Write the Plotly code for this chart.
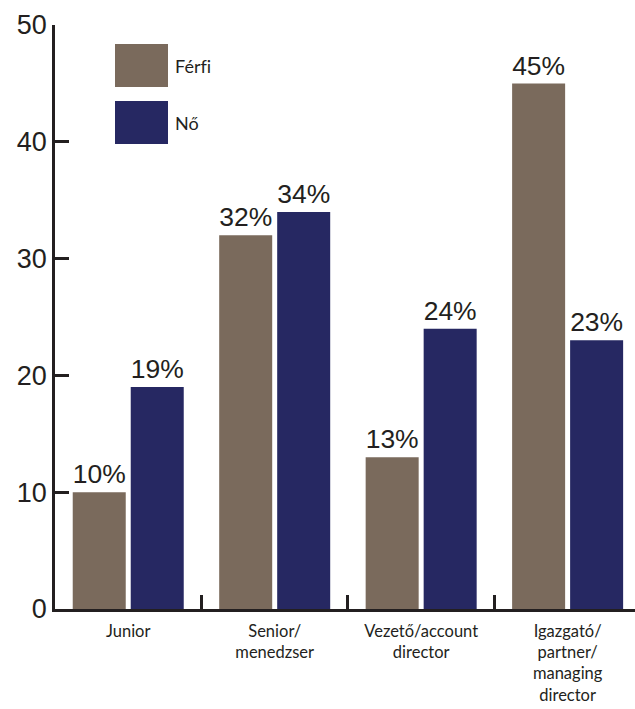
import plotly.graph_objects as go

categories = ["Junior", "Senior/<br>menedzser", "Vezető/account<br>director",
              "Igazgató/<br>partner/<br>managing<br>director"]
ferfi = [10, 32, 13, 45]
no = [19, 34, 24, 23]
# ZWNJ keeps "fi" from collapsing into a ligature
series_names = ["Férf\u200ci", "Nő"]
y_ticks = [0, 10, 20, 30, 40, 50]

BROWN = "#7a6a5c"
NAVY = "#262862"
INK = "#231f20"
NUM_FONT = dict(family="Liberation Sans, Arial, sans-serif", size=27, color=INK)
TICK_FONT = dict(family="Lato, Noto Sans, sans-serif", size=16.5, color=INK)
LEG_FONT = dict(family="Lato, Noto Sans, sans-serif", size=18, color=INK)

fig = go.Figure()
for name, vals, col in [(series_names[0], ferfi, BROWN), (series_names[1], no, NAVY)]:
    fig.add_trace(go.Bar(
        x=categories, y=vals, name=name, marker=dict(color=col, line=dict(width=0)),
        texttemplate="%{y}%", textposition="outside", textfont=NUM_FONT,
        cliponaxis=False, showlegend=False,
    ))

# legend drawn as large swatches with labels
for i, (name, col) in enumerate([(series_names[0], BROWN), (series_names[1], NAVY)]):
    y0 = 44 + i * 57
    fig.add_shape(type="rect", xref="paper", yref="paper",
                  x0=(115 - 55) / 580, x1=(168 - 55) / 580,
                  y0=(609 - (y0 + 43)) / 584, y1=(609 - y0) / 584,
                  fillcolor=col, line=dict(width=0))
    fig.add_annotation(text=name, xref="paper", yref="paper",
                       x=(173 - 55) / 580, y=(609 - (y0 + 22)) / 584,
                       xanchor="left", yanchor="middle", showarrow=False,
                       font=LEG_FONT)

fig.update_layout(
    width=635, height=709,
    margin=dict(l=55, r=0, t=25, b=100, autoexpand=False),
    paper_bgcolor="white", plot_bgcolor="white",
    barmode="group", bargap=0.208, bargroupgap=0.086,
    xaxis=dict(
        range=[-0.5, 3.46], showline=True, linecolor=INK, linewidth=2.5,
        ticks="inside", ticklen=14, tickwidth=2.5, tickcolor=INK,
        tickson="boundaries", tickfont=TICK_FONT, ticklabelstandoff=5,
        showgrid=False, zeroline=False, automargin=False,
    ),
    yaxis=dict(
        range=[0, 50], tickvals=y_ticks, showline=True, linecolor=INK, linewidth=2.5,
        ticks="inside", ticklen=14, tickwidth=2.5, tickcolor=INK,
        tickfont=NUM_FONT, showgrid=False, zeroline=False, automargin=False,
    ),
)

fig.write_html("out.html")
